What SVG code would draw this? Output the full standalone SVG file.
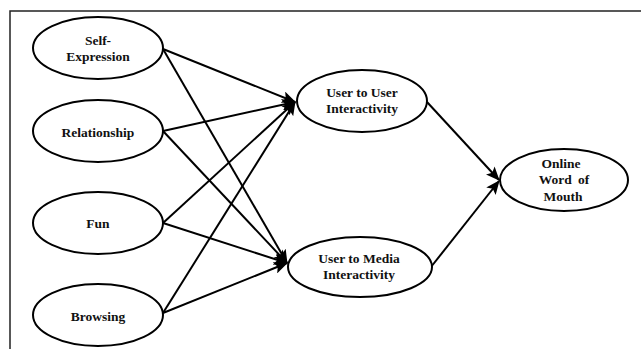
<svg xmlns="http://www.w3.org/2000/svg" width="641" height="349" viewBox="0 0 641 349">
<style>
.n ellipse{fill:#fff;stroke:#000;stroke-width:2}
.n text{font-family:"Liberation Serif","Times New Roman",serif;font-weight:bold;font-size:13.5px;fill:#111;text-anchor:middle}
.e line{stroke:#000;stroke-width:2;marker-end:url(#ah)}
</style>
<defs>
<marker id="ah" markerUnits="userSpaceOnUse" markerWidth="14" markerHeight="12" viewBox="0 0 14 12" refX="13" refY="6" orient="auto">
<path d="M0,0 L14,6 L0,12 L3,6 Z" fill="#000"/>
</marker>
</defs>
<rect width="641" height="349" fill="#fff"/>
<path d="M10,349 V11 H641" fill="none" stroke="#222" stroke-width="1.5"/>
<g class="e">
<line x1="163" y1="49" x2="295" y2="102"/>
<line x1="163" y1="49" x2="287" y2="263"/>
<line x1="163" y1="131" x2="295" y2="102"/>
<line x1="163" y1="131" x2="287" y2="263"/>
<line x1="163" y1="223" x2="295" y2="102"/>
<line x1="163" y1="223" x2="287" y2="263"/>
<line x1="163" y1="313" x2="295" y2="102"/>
<line x1="163" y1="313" x2="287" y2="263"/>
<line x1="427" y1="102" x2="499" y2="180"/>
<line x1="431" y1="267" x2="499" y2="181"/>
</g>
<g id="self-expression" class="n"><ellipse cx="98" cy="48" rx="65" ry="31"/><text x="98" y="45">Self-</text><text x="98" y="61">Expression</text></g>
<g id="relationship" class="n"><ellipse cx="98" cy="131" rx="65" ry="31"/><text x="98" y="137">Relationship</text></g>
<g id="fun" class="n"><ellipse cx="98" cy="223" rx="65" ry="31"/><text x="98" y="228">Fun</text></g>
<g id="browsing" class="n"><ellipse cx="98" cy="315" rx="65" ry="31"/><text x="98" y="321">Browsing</text></g>
<g id="user-to-user" class="n"><ellipse cx="362" cy="101" rx="65" ry="31"/><text x="362" y="97">User to User</text><text x="362" y="113">Interactivity</text></g>
<g id="user-to-media" class="n"><ellipse cx="360" cy="267" rx="72" ry="30"/><text x="359" y="263">User to Media</text><text x="359" y="279">Interactivity</text></g>
<g id="online-wom" class="n"><ellipse cx="564" cy="180" rx="64" ry="31"/><text x="561" y="168">Online</text><text x="564" y="184" word-spacing="3">Word of</text><text x="563" y="201">Mouth</text></g>
</svg>
